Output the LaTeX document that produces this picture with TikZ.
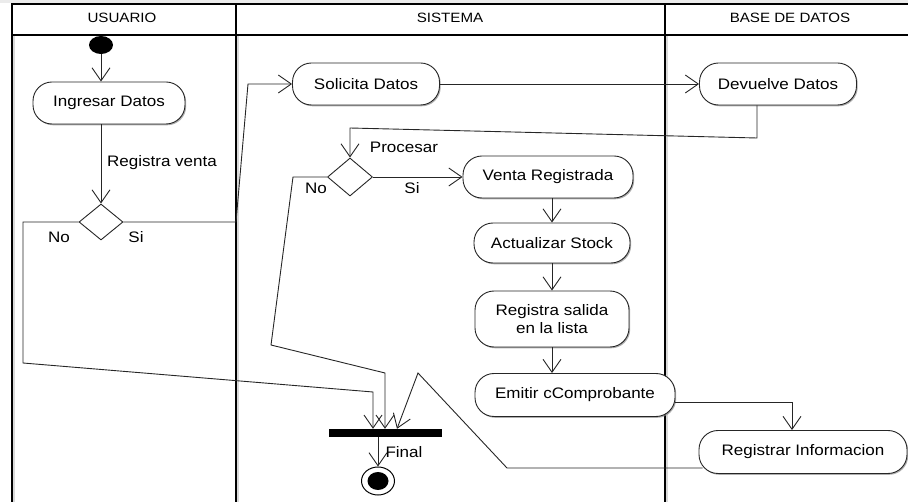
\documentclass[tikz,border=0pt]{standalone}
\usepackage{fontspec}
\setmainfont{Liberation Sans}[FakeStretch=1.12]
\usetikzlibrary{arrows.meta,shapes.geometric,shadows}
\begin{document}
\begin{tikzpicture}[x=1pt,y=-1pt,
  lane/.style={draw=black, line width=1.3pt},
  laneshade/.style={draw=black!15, line width=2pt},
  act/.style={draw=black!85, line width=0.9pt, rounded corners=19pt, fill=white,
    inner sep=0pt, align=center, font=\fontsize{15.2}{18}\selectfont,
    drop shadow={shadow xshift=1.2pt, shadow yshift=-1.3pt, fill=black!45, opacity=0.7}},
  decision/.style={diamond, draw=black!85, line width=0.9pt, fill=white,
    minimum width=44pt, minimum height=36pt, inner sep=0pt},
  flow/.style={draw=black!85, line width=0.9pt},
  arr/.style={flow, -{Straight Barb[length=13pt,width=18pt,line width=0.9pt]}},
  lbl/.style={font=\fontsize{15.2}{18}\selectfont, inner sep=0pt},
  head/.style={font=\fontsize{13.5}{16}\selectfont, inner sep=0pt}]

\useasboundingbox (0,0) rectangle (908,502);

% swimlane frame
\fill[black!8] (0,0) rectangle (908,3);
\draw[laneshade] (14,36) -- (14,502);
\draw[laneshade] (238,36) -- (238,502);
\draw[laneshade] (667,36) -- (667,502);
\draw[lane] (12,502) -- (12,4) -- (908,4);
\draw[lane] (12,35) -- (908,35);
\draw[lane] (236,4) -- (236,502);
\draw[lane] (665,4) -- (665,502);

\node[head] (hU) at (122,18) {USUARIO};
\node[head] (hS) at (450,18) {SISTEMA};
\node[head] (hB) at (790,18) {BASE DE DATOS};

% activities
\node[ellipse, fill=black, minimum width=24pt, minimum height=18pt, inner sep=0pt] (s) at (101,45) {};
\node[act, minimum width=152pt, minimum height=42pt] (ing) at (109,103) {Ingresar Datos};
\node[decision] (d1) at (101,222) {};
\node[act, minimum width=147pt, minimum height=42pt] (sol) at (366,84) {Solicita Datos};
\node[act, minimum width=157pt, minimum height=42pt] (dev) at (778,84) {Devuelve Datos};
\node[decision, minimum width=45pt, minimum height=38pt] (d2) at (350,177) {};
\node[act, minimum width=170pt, minimum height=42pt] (vr) at (548,177) {Venta Registrada};
\node[act, minimum width=156pt, minimum height=40pt] (as) at (552,243) {Actualizar Stock};
\node[act, minimum width=154pt, minimum height=56pt] (rs) at (552,319) {Registra salida\\en la lista};
\node[act, minimum width=200pt, minimum height=43pt] (em) at (575,395) {Emitir cComprobante};
\node[act, minimum width=208pt, minimum height=43pt] (ri) at (803,452) {Registrar Informacion};
\node[rectangle, fill=black, minimum width=113pt, minimum height=8pt, inner sep=0pt] (bar) at (385,433) {};
\node[ellipse, draw=black, line width=1pt, fill=white, minimum width=33pt, minimum height=28pt, inner sep=0pt] (fin) at (378,481) {};
\fill[black] (fin.center) ellipse [x radius=10.5, y radius=9];

% flows
\draw[arr] (s) -- (s |- ing.north);
\draw[arr] (ing.south -| d1.north) -- (d1.north);
\node[lbl] (lrv) at (162,163) {Registra venta};

\draw[arr] (d1.east) -- (236,222) -- (248,84) -- (sol.west);
\node[lbl] (l1no) at (59,237) {No};
\node[lbl] (l1si) at (136,237) {Si};

\draw[arr] (sol.east) -- (dev.west);
\draw[arr] ([xshift=-21pt]dev.south) -- (757,138) -- (350,128) -- (d2.north);
\node[lbl] (lpr) at (404,147) {Procesar};

\draw[arr] (d2.east) -- (vr.west);
\node[lbl] (l2si) at (412,188) {Si};
\node[lbl] (l2no) at (316,188) {No};

\draw[arr] (vr.south -| as.north) -- (as.north);
\draw[arr] (as.south) -- (as.south |- rs.north);
\draw[arr] (rs.south) -- (rs.south |- em.north);
\draw[arr] ([yshift=-7pt]em.east) -| ([xshift=-11pt]ri.north);

\draw[arr] (d1.west) -- (23,222) -- (23,363) -- (373,392) -- ([xshift=-12pt]bar.north);
\draw[arr] (d2.west) -- (293,177) -- (271,345) -- (385,373) -- (bar.north);
\draw[arr] ([xshift=4pt,yshift=-16pt]ri.west) -- (507,468) -- (418,373) -- ([xshift=12pt]bar.north);

\draw[arr] ([xshift=-7pt]bar.south) -- (fin.north);
\node[lbl] (lfin) at (404,452) {Final};

\end{tikzpicture}
\end{document}
